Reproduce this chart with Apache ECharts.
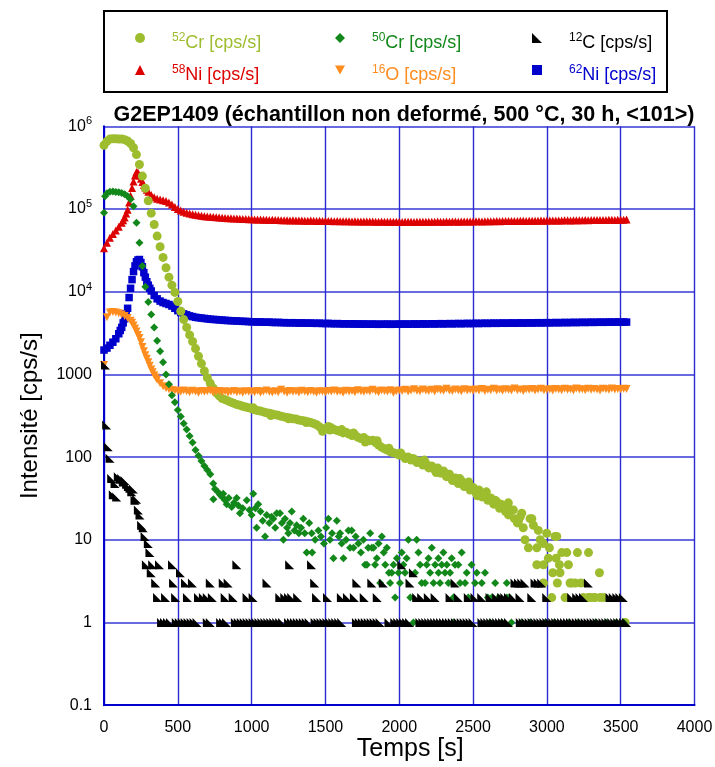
<!DOCTYPE html>
<html><head><meta charset="utf-8">
<script src="https://cdn.jsdelivr.net/npm/echarts@6/dist/echarts.min.js"></script>
<style>html,body{margin:0;padding:0;background:#fff}#chart{width:715px;height:767px}</style>
</head><body><div id="chart"></div>
<script>
// ---------- DATA ----------
const times = [0,20,40,60,80,100,120,140,160,180,200,220,240,260,280,300,320,340,360,380,
400,420,440,460,480,500,520,540,560,580,600,620,640,660,680,700,720,740,760,780,
800,820,840,860,880,900,920,940,960,980,1000,1020,1040,1060,1080,1100,1120,1140,1160,1180,
1200,1220,1240,1260,1280,1300,1320,1340,1360,1380,1400,1420,1440,1460,1480,1500,1520,1540,1560,1580,
1600,1620,1640,1660,1680,1700,1720,1740,1760,1780,1800,1820,1840,1860,1880,1900,1920,1940,1960,1980,
2000,2020,2040,2060,2080,2100,2120,2140,2160,2180,2200,2220,2240,2260,2280,2300,2320,2340,2360,2380,
2400,2420,2440,2460,2480,2500,2520,2540,2560,2580,2600,2620,2640,2660,2680,2700,2720,2740,2760,2780,
2800,2820,2840,2860,2880,2900,2920,2940,2960,2980,3000,3020,3040,3060,3080,3100,3120,3140,3160,3180,
3200,3220,3240,3260,3280,3300,3320,3340,3360,3380,3400,3420,3440,3460,3480,3500,3520,3540];

const ni58 = [33500,39000,45000,50000,55000,61000,68000,79000,98000,145000,
215000,280000,255000,212000,182000,162000,148000,139000,133000,130000,
128000,125000,120000,113000,106000,100000,96000,92500,90000,88000,
86500,85000,84000,83000,82000,81000,80500,80000,79500,79000,
78500,78000,77500,77200,77000,76500,76000,75800,75500,75200,
75000,
74800,74500,74600,74200,74000,73800,74000,73500,73400,73200,73300,73000,72800,73000,72700,72500,72600,72300,72200,72400,72000,71800,72000,71700,
71600,71800,71400,71300,71500,71200,71000,71200,70900,70800,71000,70700,70600,70800,70500,70400,70600,70300,70200,70400,70100,70000,70200,69900,70000,70100,
69800,70000,69900,70100,69800,70000,70200,69900,70100,70300,70000,70200,70400,70100,70300,70500,70200,70400,70600,70300,70500,70700,70500,70800,70600,
70900,71000,70800,71100,71200,71000,71300,71400,71200,71500,71600,71400,71700,71800,71600,71900,72000,71800,72100,72200,72000,72300,72400,72200,72500,
72600,72400,72700,72800,72600,72900,73000,72800,73100,73200,73000,73300,73400,73200,73500,73600,73400,73700,73800,73600,73900,74000,73800,74100,74200,74300,74500];
const ni58Extra = [[130,73000],[150,88000],[170,120000],[190,180000],[210,255000],[230,277000],[250,232000],[270,195000],[290,171000]];

const ni62 = [1970,2080,2250,2450,2700,3100,3700,4700,6300,11000,
17500,23000,24500,20000,15000,12000,10200,9000,8200,7700,
7400,7200,7000,6700,6300,5900,5600,5400,5250,5100,
5000,4900,4850,4800,4750,4700,4650,4620,4600,4560,
4540,4500,4480,4460,4450,4420,4400,4380,4370,4350,
4330,
4320,4300,4310,4280,4270,4290,4250,4240,4260,4220,4230,4210,4200,4220,4190,4180,4200,4170,4160,4180,4150,4140,4160,4130,
4120,4140,4110,4100,4120,4090,4080,4100,4070,4090,4060,4080,4050,4070,4060,4040,4060,4050,4030,4050,4040,4060,4030,4050,4040,4060,
4050,4070,4040,4060,4080,4050,4070,4090,4060,4080,4100,4070,4090,4110,4080,4100,4120,4090,4110,4130,4100,4120,4140,4110,4130,
4150,4120,4140,4160,4130,4150,4170,4140,4160,4180,4150,4170,4190,4160,4180,4200,4170,4190,4210,4180,4200,4220,4190,4210,4230,
4200,4220,4240,4210,4230,4250,4220,4240,4260,4230,4250,4270,4240,4260,4280,4250,4270,4290,4260,4280,4300,4270,4290,4310,4280,4300,4290];
const ni62Extra = [[110,3400],[130,4200],[150,5400],[170,8500],[190,14000],[210,20500],[230,24200],[250,22500],[270,17000],[290,13200],[310,11000]];

const o16 = [1300,4900,5600,5700,5600,5500,5300,5100,4800,4450,
3900,3300,2750,2150,1700,1400,1150,980,860,780,
720,685,660,645,640,630,615,640,625,610,
635,620,600,630,615,625,640,605,620,630,
610,625,600,615,630,610,620,600,625,615,
620,
610,630,600,620,640,615,605,625,610,650,620,600,630,615,625,605,635,620,610,630,615,600,625,620,
610,630,620,640,615,625,600,635,620,630,610,645,625,615,635,620,650,625,610,640,630,620,645,600,625,640,
630,650,620,640,660,635,625,655,640,630,650,620,660,645,635,670,640,630,655,645,625,660,640,650,635,
655,640,665,630,650,645,670,640,655,635,660,650,640,675,645,655,630,660,650,665,640,655,670,645,650,
660,640,665,655,645,670,650,660,640,675,655,660,645,670,650,665,655,640,670,660,650,675,655,665,660,670,665];
const o16Extra = [[190,4200],[210,3600],[230,3000],[250,2450],[270,1900],[290,1550],[310,1270],[330,1060],[350,920]];

// 52Cr on the regular time grid (0 .. 2840 s), then the scattered low-count tail
const cr52Main = [590000,660000,700000,708000,705000,700000,702000,690000,665000,620000,
550000,455000,345000,250000,178000,126000,89000,65000,47000,35000,
26000,19500,15000,12000,9800,7600,5800,4600,3700,3000,
2500,2050,1660,1350,1100,910,780,680,600,550,
510,
495,478,462,447,433,424,412,404,394,385,
374,366,360,352,344,340,331,326,320,312,306,302,297,290,288,280,277,273,268,262,255,246,232,205,
222,235,226,215,210,204,196,200,190,182,186,174,168,172,162,158,160,150,140,132,126,122,116,113,110,106,
104,96,100,92,95,86,90,80,84,74,78,70,74,64,68,58,62,52,56,48,52,44,47,40,43,
37,40,33,36,30,32,27,29,24,26,22,20,23,18,16,19,14];
const cr52Tail = [[1010,395],[1130,318],[1250,290],[1370,262],[1530,212],[1610,215],[1690,196],[1770,152],[1850,158],
[1930,128],[2010,112],[2090,96],[2170,92],[2250,65],[2330,62],[2410,55],[2470,50],[2530,34],[2590,38],[2650,30],[2690,27],
[2716,25],[2739,28],[2773,23],[2808,17],[2830,21],[2852,10],[2875,8],[2886,18],[2898,18],[2909,15],
[2932,8],[2932,5],[2942,13],[2955,10],[2977,9],[2977,5],[2977,3],[2999,12],[3010,6],[3017,8],[3033,2],[3040,4],
[3055,11],[3062,6],[3067,11],[3071,3],[3085,5],[3089,4],[3101,7],[3123,2],[3135,7],[3146,5],[3157,3],[3168,3],
[3191,3],[3207,7],[3230,3],[3247,2],[3281,2],[3282,7],[3292,2],[3315,2],[3326,2],[3356,4],[3360,2],[3383,2],[3530,1]];

const cr50 = [[0,90000],[7,143000],[20,155000],[40,162000],[60,163000],[80,161000],[100,159000],[120,156000],[140,151000],
[160,143000],[180,131000],[200,108000],[220,68000],[240,39000],[260,20500],[280,11500],[300,7500],[320,5300],[340,3700],
[360,2550],[380,1900],[400,1400],[420,1000],[440,760],[460,560],[480,460],[500,370],[520,310],[540,255],[560,215],
[580,180],[600,150],[620,122],[640,104],[660,90],[680,78],[700,70],[720,62],
[740,48],[741,31],[752,41],[770,38],[786,35],[800,33],[808,36],[820,30],[831,27],[845,32],[865,25],[880,28],[899,32],
[910,26],[921,21],[940,24],[967,30],[985,23],[1000,20],[1011,36],[1025,24],[1034,14],[1045,27],[1060,22],[1075,17],
[1091,11],[1102,20],[1120,16],[1135,19],[1147,18],[1160,14],[1170,21],[1192,21],[1205,16],[1215,10],[1226,18],[1240,14],
[1249,12],[1260,16],[1272,22],[1290,13],[1305,15],[1320,12],[1335,14],[1350,18],[1360,12],[1373,7],[1390,16],[1407,12],
[1410,7],[1430,10],[1452,13],[1470,11],[1490,9],[1505,14],[1520,18],[1531,10],[1545,12],[1554,6],[1577,17],[1590,11],
[1599,12],[1610,9],[1622,6],[1640,10],[1656,13],[1667,8],[1678,13],[1690,8],[1705,11],[1723,9],[1740,7],[1757,10],
[1768,5],[1781,5],[1790,8],[1803,12],[1814,8],[1826,8],[1836,5],[1848,6],[1860,9],[1871,3],[1882,11],[1895,7],[1905,5],
[1916,8],[1930,4],[1938,3],[1949,4],[1961,5],[1972,2],[1984,6],[1995,4],[2005,3],[2017,7],[2028,5],[2039,4],[2050,6],
[2062,10],[2075,2],[2096,1],[2107,4],[2118,10],[2130,7],[2141,5],[2152,3],[2175,3],[2186,5],[2198,6],[2209,4],[2220,8],
[2232,3],[2243,5],[2265,6],[2266,4],[2276,3],[2288,5],[2299,7],[2310,4],[2322,5],[2333,3],[2344,4],[2355,6],[2366,1],
[2367,2],[2378,5],[2400,5],[2412,3],[2423,7],[2446,3],[2457,4],[2468,2],[2490,5],[2513,3],[2525,4],[2559,3],[2581,4],
[2600,2],[2615,1],[2627,2],[2650,3],[2672,2],[2694,1],[2728,3],[2729,2],[2746,2],[2760,1],[2830,1],[2886,1],[2990,1],
[3050,1],[3150,1],[3213,1],[3330,1],[3400,1],[3470,1],[3520,1]];

const c12 = [[10,1300],[18,245],[29,133],[41,97],[52,55],[63,35],[75,48],[86,33],[97,58],[108,54],[120,55],[131,50],
[142,52],[153,47],[165,44],[176,42],[188,38],[199,41],[210,30],[221,31],[233,23],[244,20],[255,15],[266,14],[278,11],
[300,9],[311,7],
[287,5],[330,5],[376,5],[464,5],[900,5],[1258,5],[1406,5],[2017,5],
[320,4],[518,4],[2096,4],
[350,3],[471,3],[552,3],[599,3],[720,3],[808,3],[841,3],[1104,3],[1427,3],[1713,3],[1814,3],[1892,3],[2073,3],[2378,3],
[2784,3],[2808,3],[2830,3],[2852,3],[2920,3],[2942,3],[2965,3],[3281,3],
[363,2],[417,2],[485,2],[565,2],[640,2],[673,2],[700,2],[734,2],[821,2],[875,2],[969,2],[1010,2],[1191,2],[1225,2],
[1250,2],[1272,2],[1312,2],[1440,2],[1514,2],[1608,2],[1649,2],[1696,2],[1763,2],[1851,2],[2118,2],[2152,2],[2197,2],
[2243,2],[2344,2],[2400,2],[2468,2],[2513,2],[2559,2],[2615,2],[2660,2],[2694,2],[2715,2],[2740,2],[2773,2],[2818,2],
[2898,2],[2999,2],[3168,2],[3202,2],[3225,2],[3248,2],[3428,2],[3450,2],[3474,2],[3495,2],[3518,2],
[390,1],[410,1],[430,1],[450,1],[490,1],[510,1],[530,1],[550,1],[570,1],[590,1],[610,1],[630,1],[700,1],[720,1],
[790,1],[810,1],[830,1],[890,1],[910,1],[930,1],[950,1],[970,1],[990,1],[1010,1],[1030,1],[1050,1],[1070,1],[1090,1],
[1110,1],[1130,1],[1150,1],[1170,1],[1190,1],[1210,1],[1250,1],[1270,1],[1290,1],[1310,1],[1330,1],[1350,1],[1370,1],
[1390,1],[1430,1],[1450,1],[1470,1],[1490,1],[1510,1],[1530,1],[1550,1],[1570,1],[1590,1],[1610,1],[1710,1],[1730,1],
[1750,1],[1770,1],[1790,1],[1810,1],[1830,1],[1850,1],[1870,1],[1930,1],[1970,1],[1990,1],[2010,1],[2030,1],[2050,1],
[2070,1],[2140,1],[2160,1],[2180,1],[2200,1],[2220,1],[2240,1],[2260,1],[2280,1],[2300,1],[2320,1],[2340,1],[2360,1],
[2380,1],[2400,1],[2420,1],[2440,1],[2460,1],[2480,1],[2500,1],[2560,1],[2580,1],[2600,1],[2620,1],[2640,1],[2660,1],
[2680,1],[2700,1],[2720,1],[2740,1],[2820,1],[2840,1],[2860,1],[2880,1],[2900,1],[2920,1],[2940,1],[2960,1],[2980,1],
[3000,1],[3020,1],[3040,1],[3060,1],[3080,1],[3100,1],[3120,1],[3140,1],[3160,1],[3180,1],[3200,1],[3220,1],[3240,1],
[3260,1],[3280,1],[3300,1],[3320,1],[3340,1],[3360,1],[3380,1],[3400,1],[3420,1],[3440,1],[3460,1],[3480,1],[3500,1],
[3520,1],[3540,1]];

const seriesNames = ['52Cr','50Cr','12C','58Ni','16O','62Ni'];
const massNumbers = ['52','50','12','58','16','62'];
const elementNames = ['Cr','Cr','C','Ni','O','Ni'];
const yTickLabels = ['0.1','1','10','100','1000','10{sup|4}','10{sup|5}','10{sup|6}'];
const titleText = 'G2EP1409 (échantillon non deformé, 500 °C, 30 h, <101>)';
const xName = 'Temps [s]';
const yName = 'Intensité [cps/s]';

// ---------- STYLE ----------
const FONT = "'Liberation Sans', Arial, sans-serif";
const colors = {'52Cr':'#9dbd2f','50Cr':'#12881a','12C':'#000000','58Ni':'#dd0000','16O':'#ff8c1e','62Ni':'#0000cc'};
const symbols = {'52Cr':'circle','50Cr':'diamond','12C':'path://M0,0L0,10L10,10Z','58Ni':'triangle','16O':'path://M0,0L10,0L5,9Z','62Ni':'rect'};
const sizes = {'52Cr':9,'50Cr':8,'12C':9,'58Ni':8,'16O':8,'62Ni':7.5};
const legendLeft = [135,335,532,135,335,532];
const legendTop = [32,32,32,64,64,64];

const gridPairs = (vals) => vals.map((v, i) => [times[i], v]);
const dataBy = {
  '58Ni': gridPairs(ni58).concat(ni58Extra),
  '62Ni': gridPairs(ni62).concat(ni62Extra),
  '52Cr': gridPairs(cr52Main).concat(cr52Tail),
  '16O': gridPairs(o16).concat(o16Extra),
  '50Cr': cr50,
  '12C': c12
};
const drawOrder = ['58Ni','62Ni','52Cr','16O','50Cr','12C'];

const chart = echarts.init(document.getElementById('chart'), null, {renderer:'canvas'});
chart.setOption({
  animation: false,
  backgroundColor: '#fff',
  title: {
    text: titleText, left: 399, top: 99, textAlign: 'center',
    textStyle: {fontFamily: FONT, fontSize: 21.5, fontWeight: 'bold', color: '#000'}
  },
  graphic: [{type:'rect', shape:{x:104, y:11, width:563, height:81}, style:{fill:'none', stroke:'#000', lineWidth:2}, silent:true}],
  legend: seriesNames.map((n, i) => ({
    data: [n], left: legendLeft[i], top: legendTop[i], padding: 0, itemWidth: 10, itemHeight: 10,
    selectedMode: false,
    formatter: () => '{sup|' + massNumbers[i] + '}{txt|' + elementNames[i] + ' [cps/s]}',
    textStyle: {
      color: colors[n], fontFamily: FONT, fontSize: 18,
      rich: {
        sup: {fontSize: 12, color: colors[n], fontFamily: FONT, verticalAlign: 'bottom', padding: [0,0,8,22]},
        txt: {fontSize: 18, color: colors[n], fontFamily: FONT, padding: [10,0,0,0]}
      }
    }
  })),
  grid: {left: 104, right: 20.5, top: 126.3, bottom: 61.8, containLabel: false, outerBoundsMode: 'none'},
  xAxis: {
    type: 'value', min: 0, max: 4000, interval: 500,
    name: xName, nameLocation: 'middle', nameGap: 31, nameMoveOverlap: false,
    nameTextStyle: {fontFamily: FONT, fontSize: 25, color: '#000', padding: [0,0,0,22]},
    axisLine: {show: true, onZero: false, lineStyle: {color: '#0000cc', width: 2}},
    axisTick: {show: false},
    axisLabel: {fontFamily: FONT, fontSize: 16, color: '#000', margin: 14, formatter: (v) => String(v)},
    splitLine: {show: true, lineStyle: {color: '#2b2bd2', width: 1.4}}
  },
  yAxis: {
    type: 'log', logBase: 10, min: 0.1, max: 1000000,
    name: yName, nameLocation: 'middle', nameGap: 62, nameMoveOverlap: false,
    nameTextStyle: {fontFamily: FONT, fontSize: 24, color: '#000'},
    axisLine: {show: true, onZero: false, lineStyle: {color: '#0000cc', width: 2}},
    axisTick: {show: false},
    axisLabel: {
      fontFamily: FONT, fontSize: 16, color: '#000', margin: 12,
      formatter: (v) => yTickLabels[Math.round(Math.log10(v)) + 1],
      rich: {sup: {fontSize: 11, color: '#000', fontFamily: FONT, verticalAlign: 'bottom', padding: [0,0,10,0]}}
    },
    splitLine: {show: true, lineStyle: {color: '#6a6ae0', width: 1.8}}
  },
  series: drawOrder.map(n => ({
    name: n, type: 'scatter', data: dataBy[n], symbol: symbols[n], symbolSize: sizes[n],
    itemStyle: {color: colors[n], opacity: 1}, silent: true, emphasis: {disabled: true}
  }))
});
</script></body></html>
